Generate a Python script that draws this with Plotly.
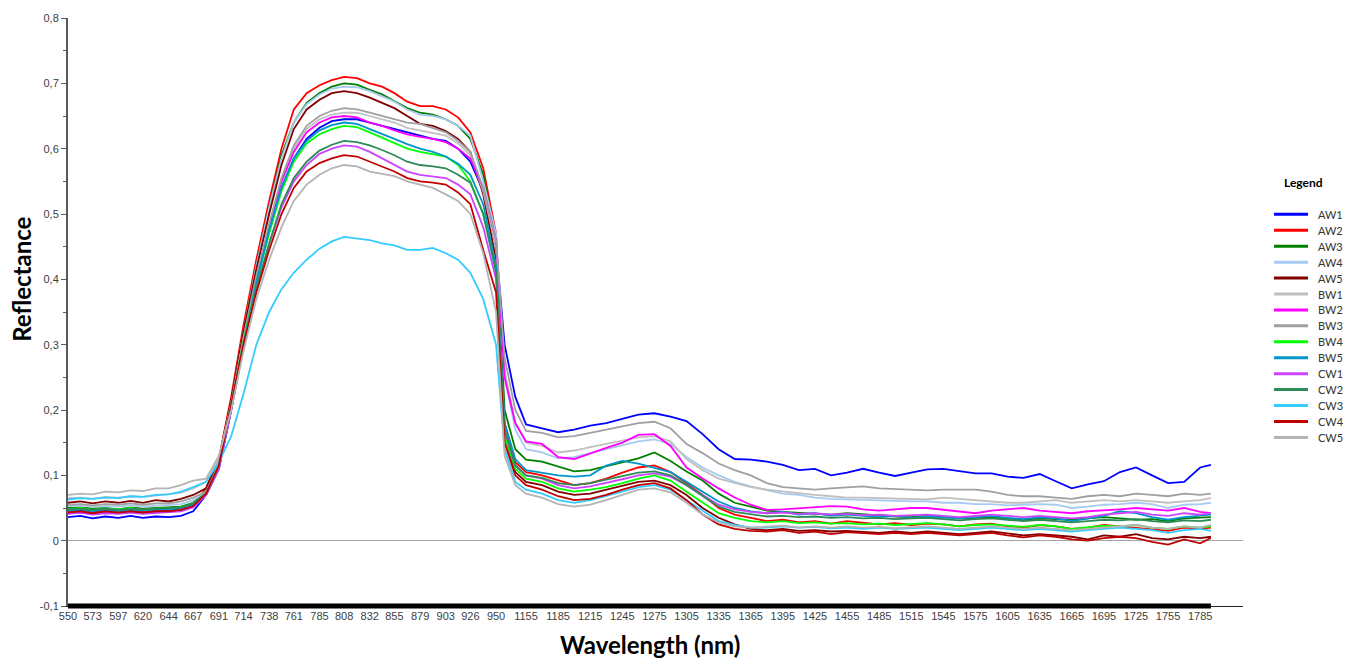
import plotly.graph_objects as go

# ---- wavelengths (nm) ----
# VNIR detector samples
vnir_nm = [550, 561.5, 573, 585, 597, 608.5, 620, 632, 644, 655.5, 667, 679, 691,
           702.5, 714, 726, 738, 749.5, 761, 773, 785, 796.5, 808, 820, 832, 843.5,
           855, 867, 879, 891, 903, 914.5, 926, 938, 950]
# SWIR detector samples
swir_nm = [1135, 1145, 1155, 1170, 1185, 1200, 1215, 1230, 1245, 1260, 1275, 1290,
           1305, 1320, 1335, 1350, 1365, 1380, 1395, 1410, 1425, 1440, 1455, 1470,
           1485, 1500, 1515, 1530, 1545, 1560, 1575, 1590, 1605, 1620, 1635, 1650,
           1665, 1680, 1695, 1710, 1725, 1740, 1755, 1770, 1785, 1795]

# axis tick labels
vnir_ticks = [550, 573, 597, 620, 644, 667, 691, 714, 738, 761, 785, 808, 832, 855,
              879, 903, 926, 950]
swir_ticks = [1155, 1185, 1215, 1245, 1275, 1305, 1335, 1365, 1395, 1425, 1455, 1485,
              1515, 1545, 1575, 1605, 1635, 1665, 1695, 1725, 1755, 1785]

y_tick_vals = [-0.1, 0, 0.1, 0.2, 0.3, 0.4, 0.5, 0.6, 0.7, 0.8]
y_tick_text = ["-0,1", "0", "0,1", "0,2", "0,3", "0,4", "0,5", "0,6", "0,7", "0,8"]

# ---- reflectance spectra (VNIR part, then SWIR part) ----
AW1 = [0.036, 0.038, 0.034, 0.037, 0.035, 0.038, 0.035, 0.037, 0.036, 0.038, 0.045,
       0.07, 0.11, 0.2, 0.3, 0.395, 0.475, 0.54, 0.585, 0.615, 0.632, 0.642,
       0.645, 0.645, 0.64, 0.635, 0.63, 0.625, 0.62, 0.615, 0.612, 0.6, 0.58, 0.535, 0.45,
       0.30, 0.22, 0.178, 0.172, 0.166, 0.17, 0.176, 0.18, 0.186, 0.193, 0.195, 0.19,
       0.183, 0.163, 0.14, 0.125, 0.124, 0.121, 0.116, 0.108, 0.11, 0.10, 0.104, 0.11,
       0.104, 0.099, 0.104, 0.109, 0.11, 0.106, 0.103, 0.103, 0.098, 0.096, 0.102, 0.091,
       0.08, 0.086, 0.091, 0.105, 0.112, 0.1, 0.088, 0.09, 0.112, 0.116]
AW2 = [0.045, 0.047, 0.044, 0.046, 0.045, 0.047, 0.045, 0.046, 0.046, 0.048, 0.055,
       0.08, 0.125, 0.22, 0.33, 0.43, 0.52, 0.6, 0.66, 0.685, 0.697, 0.705,
       0.71, 0.708, 0.70, 0.695, 0.685, 0.672, 0.665, 0.665, 0.66, 0.648, 0.625, 0.57, 0.47,
       0.18, 0.12, 0.105, 0.1, 0.092, 0.085, 0.088, 0.095, 0.104, 0.112, 0.115, 0.105,
       0.088, 0.07, 0.05, 0.04, 0.035, 0.03, 0.032, 0.028, 0.03, 0.026, 0.03, 0.028,
       0.025, 0.027, 0.024, 0.026, 0.025, 0.022, 0.025, 0.026, 0.022, 0.02, 0.024, 0.022,
       0.018, 0.02, 0.024, 0.022, 0.02, 0.018, 0.015, 0.02, 0.018, 0.02]
AW3 = [0.05, 0.051, 0.049, 0.05, 0.048, 0.051, 0.049, 0.05, 0.05, 0.052, 0.058,
       0.075, 0.12, 0.21, 0.32, 0.42, 0.51, 0.59, 0.64, 0.67, 0.685, 0.695,
       0.70, 0.698, 0.69, 0.683, 0.673, 0.662, 0.655, 0.652, 0.645, 0.635, 0.615, 0.56, 0.46,
       0.2, 0.14, 0.124, 0.121, 0.114, 0.106, 0.108, 0.114, 0.12, 0.126, 0.135, 0.122,
       0.106, 0.092, 0.072, 0.058, 0.052, 0.046, 0.044, 0.043, 0.042, 0.04, 0.042, 0.04,
       0.038, 0.037, 0.036, 0.038, 0.036, 0.034, 0.035, 0.036, 0.034, 0.032, 0.034, 0.033,
       0.032, 0.034, 0.036, 0.034, 0.032, 0.033, 0.03, 0.034, 0.035, 0.036]
AW4 = [0.053, 0.054, 0.052, 0.053, 0.052, 0.054, 0.052, 0.053, 0.054, 0.056, 0.062,
       0.075, 0.12, 0.21, 0.32, 0.42, 0.51, 0.585, 0.64, 0.668, 0.683, 0.692,
       0.695, 0.694, 0.688, 0.68, 0.672, 0.66, 0.652, 0.65, 0.645, 0.635, 0.62, 0.55, 0.47,
       0.25, 0.17, 0.14, 0.135, 0.126, 0.128, 0.134, 0.14, 0.146, 0.152, 0.155, 0.148,
       0.128, 0.112, 0.1, 0.09, 0.083, 0.077, 0.072, 0.07, 0.066, 0.064, 0.063, 0.063,
       0.062, 0.06, 0.06, 0.06, 0.058, 0.058, 0.056, 0.056, 0.054, 0.055, 0.056, 0.055,
       0.05, 0.052, 0.055, 0.056, 0.058, 0.056, 0.05, 0.055, 0.056, 0.058]
AW5 = [0.058, 0.06, 0.057, 0.06, 0.058, 0.061, 0.058, 0.062, 0.06, 0.064, 0.07,
       0.08, 0.125, 0.215, 0.32, 0.415, 0.5, 0.575, 0.63, 0.66, 0.675, 0.685,
       0.688, 0.685, 0.678, 0.67, 0.662, 0.65, 0.638, 0.635, 0.627, 0.615, 0.595, 0.53, 0.43,
       0.16, 0.105, 0.09, 0.085, 0.075, 0.07, 0.072, 0.078, 0.084, 0.09, 0.092, 0.085,
       0.07, 0.05, 0.035, 0.025, 0.018, 0.016, 0.018, 0.015, 0.016, 0.014, 0.015, 0.013,
       0.012, 0.014, 0.012, 0.014, 0.012, 0.01, 0.012, 0.014, 0.011, 0.008, 0.01, 0.008,
       0.006, 0.002, 0.008, 0.006, 0.01, 0.004, 0.002, 0.006, 0.004, 0.006]
BW1 = [0.065, 0.066, 0.064, 0.067, 0.066, 0.068, 0.067, 0.069, 0.07, 0.073, 0.08,
       0.09, 0.125, 0.21, 0.31, 0.4, 0.48, 0.55, 0.6, 0.63, 0.645, 0.652,
       0.655, 0.655, 0.65, 0.645, 0.64, 0.632, 0.628, 0.625, 0.62, 0.608, 0.59, 0.535, 0.45,
       0.26, 0.18, 0.15, 0.145, 0.135, 0.138, 0.143, 0.148, 0.153, 0.158, 0.16, 0.152,
       0.125, 0.108, 0.095, 0.088, 0.082, 0.078, 0.075, 0.072, 0.07, 0.068, 0.066, 0.066,
       0.065, 0.065, 0.064, 0.063, 0.066, 0.064, 0.062, 0.06, 0.058, 0.058, 0.06, 0.062,
       0.058, 0.06, 0.062, 0.06, 0.062, 0.06, 0.058, 0.06, 0.062, 0.065]
BW2 = [0.042, 0.043, 0.041, 0.043, 0.042, 0.044, 0.042, 0.043, 0.044, 0.046, 0.052,
       0.07, 0.11, 0.2, 0.305, 0.4, 0.48, 0.55, 0.595, 0.625, 0.64, 0.648,
       0.65, 0.648, 0.64, 0.635, 0.628, 0.622, 0.618, 0.615, 0.61, 0.6, 0.585, 0.54, 0.46,
       0.25, 0.18, 0.152, 0.148, 0.128, 0.125, 0.134, 0.142, 0.15, 0.162, 0.163, 0.145,
       0.112, 0.095, 0.08, 0.066, 0.055, 0.047, 0.048, 0.05, 0.052, 0.053, 0.052, 0.048,
       0.046, 0.048, 0.05, 0.05, 0.047, 0.044, 0.042, 0.046, 0.048, 0.05, 0.046, 0.044,
       0.042, 0.045, 0.046, 0.048, 0.05, 0.048, 0.046, 0.05, 0.044, 0.042]
BW3 = [0.055, 0.056, 0.054, 0.056, 0.055, 0.057, 0.055, 0.057, 0.057, 0.06, 0.066,
       0.075, 0.115, 0.205, 0.31, 0.405, 0.485, 0.555, 0.605, 0.635, 0.65, 0.658,
       0.662, 0.66, 0.655, 0.65, 0.645, 0.64, 0.638, 0.632, 0.625, 0.612, 0.595, 0.54, 0.46,
       0.28, 0.2, 0.168, 0.165, 0.158, 0.16, 0.165, 0.17, 0.176, 0.18, 0.182, 0.172,
       0.148, 0.134, 0.118, 0.108, 0.1, 0.088, 0.082, 0.08, 0.078, 0.08, 0.081, 0.083,
       0.08, 0.079, 0.078, 0.077, 0.078, 0.078, 0.078, 0.075, 0.07, 0.068, 0.068, 0.066,
       0.064, 0.068, 0.07, 0.068, 0.072, 0.07, 0.068, 0.072, 0.07, 0.072]
BW4 = [0.048, 0.05, 0.047, 0.049, 0.048, 0.05, 0.047, 0.049, 0.049, 0.051, 0.057,
       0.07, 0.115, 0.205, 0.305, 0.395, 0.47, 0.535, 0.58, 0.608, 0.622, 0.63,
       0.635, 0.633, 0.625, 0.617, 0.608, 0.6, 0.595, 0.592, 0.588, 0.575, 0.55, 0.5, 0.42,
       0.16, 0.11, 0.095, 0.09, 0.08, 0.075, 0.078, 0.082, 0.088, 0.095, 0.1, 0.092,
       0.075, 0.058, 0.042, 0.035, 0.03, 0.028, 0.03, 0.027, 0.028, 0.026, 0.027, 0.025,
       0.026, 0.024, 0.025, 0.027, 0.025, 0.022, 0.024, 0.025, 0.023, 0.021, 0.024, 0.022,
       0.018, 0.02, 0.023, 0.022, 0.024, 0.02, 0.018, 0.022, 0.02, 0.022]
BW5 = [0.046, 0.047, 0.045, 0.047, 0.045, 0.047, 0.046, 0.047, 0.047, 0.049, 0.055,
       0.07, 0.11, 0.2, 0.3, 0.395, 0.475, 0.54, 0.585, 0.612, 0.628, 0.636,
       0.64, 0.638, 0.63, 0.622, 0.615, 0.607, 0.6, 0.595, 0.588, 0.577, 0.56, 0.515, 0.42,
       0.18, 0.125, 0.108, 0.104, 0.1, 0.098, 0.1, 0.115, 0.122, 0.118, 0.112, 0.105,
       0.09, 0.075, 0.06, 0.05, 0.045, 0.042, 0.044, 0.04, 0.042, 0.038, 0.04, 0.038,
       0.036, 0.038, 0.035, 0.037, 0.036, 0.034, 0.036, 0.038, 0.035, 0.033, 0.036, 0.034,
       0.03, 0.034, 0.038, 0.045, 0.042, 0.036, 0.032, 0.036, 0.038, 0.04]
CW1 = [0.041, 0.043, 0.04, 0.042, 0.041, 0.043, 0.041, 0.042, 0.043, 0.045, 0.051,
       0.07, 0.11, 0.2, 0.3, 0.385, 0.455, 0.51, 0.55, 0.575, 0.592, 0.6,
       0.605, 0.603, 0.595, 0.585, 0.575, 0.565, 0.56, 0.558, 0.555, 0.545, 0.53, 0.48, 0.4,
       0.17, 0.115, 0.1, 0.095, 0.085, 0.08, 0.083, 0.088, 0.094, 0.1, 0.103, 0.098,
       0.085, 0.07, 0.055, 0.048, 0.044, 0.042, 0.043, 0.041, 0.042, 0.04, 0.041, 0.039,
       0.04, 0.038, 0.039, 0.04, 0.038, 0.036, 0.038, 0.04, 0.038, 0.036, 0.038, 0.036,
       0.034, 0.036, 0.04, 0.042, 0.044, 0.04, 0.038, 0.042, 0.04, 0.042]
CW2 = [0.048, 0.049, 0.047, 0.049, 0.047, 0.049, 0.048, 0.049, 0.049, 0.051, 0.057,
       0.072, 0.115, 0.205, 0.3, 0.385, 0.455, 0.515, 0.555, 0.58, 0.597, 0.606,
       0.612, 0.61, 0.605, 0.598, 0.59, 0.58, 0.575, 0.573, 0.57, 0.56, 0.548, 0.5, 0.41,
       0.17, 0.115, 0.1, 0.096, 0.088, 0.085, 0.088, 0.093, 0.098, 0.104, 0.106, 0.1,
       0.085, 0.068, 0.052, 0.044, 0.04, 0.037, 0.038, 0.036, 0.037, 0.035, 0.036, 0.034,
       0.035, 0.033, 0.034, 0.035, 0.033, 0.031, 0.033, 0.034, 0.032, 0.03, 0.032, 0.03,
       0.028, 0.03, 0.032, 0.031, 0.033, 0.03, 0.028, 0.031, 0.03, 0.032]
CW3 = [0.063, 0.065, 0.064, 0.066, 0.065, 0.068, 0.067, 0.07, 0.071, 0.075, 0.082,
       0.09, 0.12, 0.16, 0.225, 0.3, 0.35, 0.385, 0.41, 0.43, 0.447, 0.458,
       0.465, 0.463, 0.46, 0.455, 0.452, 0.445, 0.445, 0.448, 0.44, 0.43, 0.41, 0.37, 0.3,
       0.14, 0.09, 0.078, 0.072, 0.062, 0.058, 0.062, 0.068, 0.075, 0.082, 0.085, 0.078,
       0.062, 0.045, 0.03, 0.024, 0.02, 0.02, 0.022, 0.02, 0.021, 0.019, 0.02, 0.018,
       0.02, 0.018, 0.019, 0.02, 0.018, 0.016, 0.018, 0.02, 0.018, 0.016, 0.018, 0.016,
       0.014, 0.016, 0.018, 0.02, 0.018, 0.016, 0.012, 0.016, 0.018, 0.015]
CW4 = [0.043, 0.045, 0.042, 0.045, 0.043, 0.045, 0.043, 0.045, 0.045, 0.047, 0.053,
       0.072, 0.115, 0.205, 0.3, 0.38, 0.445, 0.5, 0.54, 0.565, 0.578, 0.585,
       0.59, 0.588, 0.58, 0.572, 0.565, 0.555, 0.55, 0.548, 0.545, 0.533, 0.515, 0.445, 0.38,
       0.15, 0.1, 0.085, 0.078, 0.068, 0.062, 0.064, 0.07, 0.078, 0.085, 0.088, 0.08,
       0.062, 0.04, 0.025, 0.018, 0.015, 0.014, 0.016, 0.012, 0.014, 0.01, 0.013, 0.011,
       0.01, 0.012, 0.01, 0.012, 0.01, 0.008, 0.01, 0.012, 0.008, 0.005, 0.008, 0.006,
       0.002, 0.0, 0.004, 0.006, 0.004, -0.002, -0.006, 0.002, -0.004, 0.004]
CW5 = [0.07, 0.072, 0.071, 0.075, 0.074, 0.077, 0.076, 0.08, 0.08, 0.085, 0.092,
       0.095, 0.13, 0.2, 0.29, 0.37, 0.43, 0.48, 0.52, 0.545, 0.56, 0.57,
       0.575, 0.573, 0.565, 0.562, 0.558, 0.55, 0.545, 0.54, 0.53, 0.52, 0.5, 0.44, 0.35,
       0.13, 0.085, 0.072, 0.066, 0.056, 0.052, 0.055, 0.062, 0.07, 0.078, 0.08, 0.074,
       0.058, 0.04, 0.028, 0.022, 0.02, 0.021, 0.023, 0.02, 0.022, 0.02, 0.022, 0.02,
       0.021, 0.019, 0.02, 0.022, 0.02, 0.018, 0.02, 0.022, 0.02, 0.018, 0.02, 0.018,
       0.016, 0.018, 0.02, 0.022, 0.024, 0.02, 0.018, 0.022, 0.02, 0.024]

series_names = ["AW1", "AW2", "AW3", "AW4", "AW5", "BW1", "BW2", "BW3", "BW4", "BW5",
                "CW1", "CW2", "CW3", "CW4", "CW5"]
series_values = [AW1, AW2, AW3, AW4, AW5, BW1, BW2, BW3, BW4, BW5,
                 CW1, CW2, CW3, CW4, CW5]
series_colors = ["#0000FF", "#FF0000", "#008000", "#A6CAF0", "#800000", "#C0C0C0",
                 "#FF00FF", "#A0A0A0", "#00FF00", "#0096C8", "#CC44FF", "#2E8B57",
                 "#33CCFF", "#C00000", "#B4B4B4"]

# The 950-1155 nm gap between the two detectors is compressed on the axis:
# SWIR wavelengths are shifted left so both segments share one linear scale.
SWIR_SHIFT = 177
axis_x = vnir_nm + [w - SWIR_SHIFT for w in swir_nm]
tick_pos = vnir_ticks + [w - SWIR_SHIFT for w in swir_ticks]
tick_txt = [str(t) for t in vnir_ticks + swir_ticks]

n_pts = len(axis_x)
for vals in series_values:
    assert len(vals) == n_pts, len(vals)

# ---- page geometry (pixels) ----
W, H = 1359, 662
ML, MR, MT, MB = 68, 116, 13, 56
PW, PH = W - ML - MR, H - MT - MB


def paper_x(px):
    return (px - ML) / PW


def paper_y(py):
    return (H - MB - py) / PH


fig = go.Figure()
for name, vals, color in zip(series_names, series_values, series_colors):
    fig.add_trace(go.Scatter(
        x=axis_x, y=vals, mode="lines", name=name,
        line=dict(color=color, width=1.8),
    ))

tick_font = dict(family="Liberation Sans, Arial, sans-serif", size=11, color="#404040")

fig.update_xaxes(
    range=[550, 1648], tickmode="array", tickvals=tick_pos, ticktext=tick_txt,
    tickangle=0, showgrid=False, zeroline=False, showline=True, linecolor="#222222",
    linewidth=1, ticks="", tickfont=tick_font,
)
fig.update_yaxes(
    range=[-0.1, 0.8], tickmode="array", tickvals=y_tick_vals, ticktext=y_tick_text,
    showgrid=False, zeroline=True, zerolinecolor="#A6A6A6", zerolinewidth=1,
    showline=True, linecolor="#5A5A5A", linewidth=2,
    ticks="outside", ticklen=5, tickcolor="#5A5A5A", tickwidth=1,
    minor=dict(dtick=0.05, tick0=0, ticks="outside", ticklen=3, tickcolor="#5A5A5A"),
    tickfont=tick_font,
)

shapes = [
    # dense sample tick marks along the bottom axis
    dict(type="line", xref="x", yref="paper", x0=550, x1=swir_nm[-1] - SWIR_SHIFT,
         y0=0, y1=0, line=dict(color="#000000", width=5), layer="above"),
]
title_font = dict(family="Lato, Carlito, sans-serif", size=24, color="#000000")
annotations = [
    dict(text="<b>Reflectance</b>", xref="paper", yref="paper",
         x=paper_x(22), y=paper_y(277), textangle=-90, showarrow=False,
         font=title_font, xanchor="center", yanchor="middle"),
    dict(text="<b>Wavelength (nm)</b>", xref="paper", yref="paper",
         x=paper_x(650), y=paper_y(645), showarrow=False,
         font=title_font, xanchor="center", yanchor="middle"),
    dict(text="<b>Legend</b>", xref="paper", yref="paper",
         x=paper_x(1303), y=paper_y(179), showarrow=False,
         font=dict(family="Lato, Carlito, sans-serif", size=12, color="#000000"),
         xanchor="center", yanchor="middle"),
]

# legend entries: colour sample line plus label
for i, (name, color) in enumerate(zip(series_names, series_colors)):
    yy = 211 + 16.07 * i
    shapes.append(dict(type="line", xref="paper", yref="paper",
                       x0=paper_x(1274), x1=paper_x(1308), y0=paper_y(yy), y1=paper_y(yy),
                       line=dict(color=color, width=3)))
    annotations.append(dict(text=name, xref="paper", yref="paper",
                            x=paper_x(1316), y=paper_y(yy), showarrow=False,
                            xanchor="left", yanchor="middle",
                            font=dict(family="Lato, Carlito, sans-serif", size=11,
                                      color="#333333")))

fig.update_layout(
    width=W, height=H, autosize=False,
    margin=dict(l=ML, r=MR, t=MT, b=MB, pad=0),
    paper_bgcolor="#FFFFFF", plot_bgcolor="#FFFFFF",
    showlegend=False, shapes=shapes, annotations=annotations,
)

fig.write_html("out.html")
